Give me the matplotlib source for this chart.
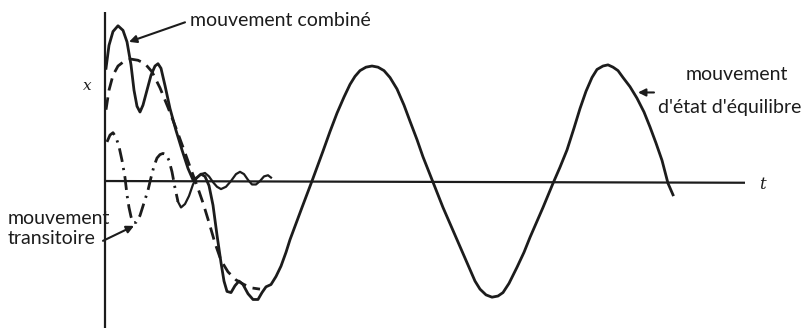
import matplotlib
matplotlib.use("Agg")
import matplotlib.pyplot as plt
import numpy as np

# Forced response of a damped oscillator: transient + steady state = combined.
# t in arbitrary time units, x normalised to the steady-state amplitude.

combined_t = [0.01, 0.04, 0.08, 0.13, 0.18, 0.22, 0.26, 0.29, 0.32, 0.35, 0.38,
              0.42, 0.46, 0.50, 0.53, 0.56, 0.60, 0.65, 0.71, 0.77, 0.83, 0.88,
              0.92, 0.96, 1.00, 1.04, 1.08, 1.12, 1.16, 1.19, 1.22, 1.26, 1.30,
              1.34, 1.38, 1.43, 1.48, 1.53, 1.57, 1.61, 1.66, 1.71, 1.76, 1.81,
              1.85, 1.91, 1.97, 2.07, 2.18, 2.25, 2.32, 2.39, 2.45, 2.50, 2.55,
              2.61, 2.67, 2.73, 2.79, 2.85, 2.92, 2.99, 3.05, 3.12, 3.18, 3.28,
              3.38, 3.45, 3.52, 3.59, 3.65, 3.70, 3.75, 3.81, 3.87, 3.93, 3.98,
              4.04, 4.12, 4.19, 4.25, 4.38, 4.48, 4.55, 4.62, 4.69, 4.75, 4.81,
              4.87, 4.92, 4.98, 5.03, 5.08, 5.13, 5.18, 5.25, 5.32, 5.39, 5.45,
              5.51, 5.57, 5.63, 5.68]
combined_x = [0.98, 1.18, 1.30, 1.35, 1.31, 1.21, 1.01, 0.79, 0.65, 0.60, 0.66,
              0.79, 0.92, 1.00, 1.02, 0.98, 0.83, 0.63, 0.44, 0.27, 0.11, 0.01,
              0.03, 0.06, 0.04, -0.04, -0.21, -0.47, -0.71, -0.87, -0.96, -0.97,
              -0.91, -0.87, -0.90, -0.98, -1.03, -1.03, -0.97, -0.92, -0.90,
              -0.83, -0.74, -0.62, -0.51, -0.37, -0.23, 0.00, 0.26, 0.43, 0.59,
              0.73, 0.84, 0.91, 0.96, 0.99, 1.00, 0.99, 0.96, 0.90, 0.80, 0.66,
              0.52, 0.36, 0.21, -0.01, -0.23, -0.37, -0.51, -0.65, -0.77, -0.87,
              -0.94, -0.99, -1.01, -1.00, -0.97, -0.89, -0.75, -0.62, -0.49,
              -0.23, -0.02, 0.12, 0.27, 0.46, 0.63, 0.78, 0.90, 0.97, 1.00, 1.01,
              0.99, 0.96, 0.90, 0.82, 0.72, 0.60, 0.47, 0.33, 0.18, -0.02, -0.12]

steady_t = [0.01, 0.04, 0.08, 0.13, 0.19, 0.26, 0.33, 0.40, 0.47, 0.55, 0.63,
            0.71, 0.79, 0.86, 0.92, 0.98, 1.04, 1.10, 1.16, 1.23, 1.31, 1.39,
            1.47, 1.55]
steady_x = [0.62, 0.79, 0.92, 1.00, 1.04, 1.06, 1.05, 1.02, 0.95, 0.81, 0.64,
            0.46, 0.27, 0.10, -0.04, -0.19, -0.36, -0.54, -0.69, -0.79, -0.86,
            -0.90, -0.93, -0.94]

transient_t = [0.02, 0.05, 0.08, 0.11, 0.14, 0.17, 0.20, 0.22, 0.24, 0.26, 0.28,
               0.31, 0.35, 0.39, 0.43, 0.46, 0.49, 0.52, 0.55, 0.58, 0.61, 0.64,
               0.67, 0.70, 0.73, 0.76, 0.80, 0.84, 0.88, 0.92, 0.96, 1.00, 1.04,
               1.08, 1.12, 1.16, 1.21, 1.26, 1.31, 1.35, 1.39, 1.43, 1.47, 1.51,
               1.55, 1.59, 1.63, 1.66]
transient_x = [0.34, 0.40, 0.42, 0.38, 0.30, 0.18, 0.03, -0.12, -0.23, -0.31,
               -0.36, -0.36, -0.30, -0.19, -0.08, 0.03, 0.13, 0.20, 0.23, 0.24,
               0.23, 0.18, 0.08, -0.06, -0.18, -0.23, -0.20, -0.13, -0.03, 0.03,
               0.06, 0.07, 0.04, -0.01, -0.05, -0.07, -0.05, 0.00, 0.06, 0.08,
               0.06, 0.01, -0.03, -0.03, 0.00, 0.04, 0.05, 0.03]
transient_tail_from = 0.73  # small residual wiggle drawn as a plain line

INK = "#1c1c1c"
LW = 2.0
FONT = ["Lato", "DejaVu Sans"]
FS = 14

fig = plt.figure(figsize=(8.05, 3.28), dpi=100)
ax = fig.add_axes([0, 0, 1, 1])
ax.set_xlim(-1.05, 7.00)
ax.set_ylim(-1.278, 1.574)
ax.axis("off")

# axes of the sketch
ax.plot([0, 0], [-1.30, 1.47], color=INK, lw=1.6, solid_capstyle="butt")
ax.plot([0, 6.40], [0, -0.015], color=INK, lw=1.6, solid_capstyle="butt")

ax.plot(combined_t, combined_x, color=INK, lw=LW, solid_joinstyle="round")
ax.plot(steady_t, steady_x, color=INK, lw=LW, linestyle=(0, (4.5, 2.5)),
        dash_capstyle="butt")

tt = np.array(transient_t)
tx = np.array(transient_x)
head = tt <= transient_tail_from
tail = tt >= transient_tail_from
ax.plot(tt[head], tx[head], color=INK, lw=LW,
        linestyle=(0, (5, 2.2, 0.8, 2.2)), dash_capstyle="butt")
ax.plot(tt[tail], tx[tail], color=INK, lw=1.6, solid_joinstyle="round")

# axis names
ax.text(-0.18, 0.83, "x", fontsize=11, style="italic", family="DejaVu Serif",
        ha="center", va="center", color=INK)
ax.text(6.57, -0.03, "t", fontsize=12, style="italic", family="DejaVu Serif",
        ha="center", va="center", color=INK)

arrow = dict(arrowstyle="-|>", color=INK, lw=1.5, mutation_scale=11,
             shrinkA=0, shrinkB=0)

ax.text(0.85, 1.40, "mouvement combiné", fontsize=FS, family=FONT,
        ha="left", va="center", color=INK)
ax.annotate("", xy=(0.24, 1.21), xytext=(0.80, 1.38), arrowprops=arrow)

ax.text(-0.97, -0.33, "mouvement", fontsize=FS, family=FONT,
        ha="left", va="center", color=INK)
ax.text(-0.97, -0.50, "transitoire", fontsize=FS, family=FONT,
        ha="left", va="center", color=INK)
ax.annotate("", xy=(0.29, -0.39), xytext=(-0.02, -0.52), arrowprops=arrow)

ax.text(6.32, 0.93, "mouvement", fontsize=FS, family=FONT,
        ha="center", va="center", color=INK)
ax.text(5.53, 0.635, "d'état d'équilibre", fontsize=FS, family=FONT,
        ha="left", va="center", color=INK)
ax.annotate("", xy=(5.33, 0.77), xytext=(5.49, 0.77), arrowprops=arrow)

fig.savefig("out.png", dpi=100, facecolor="white")
